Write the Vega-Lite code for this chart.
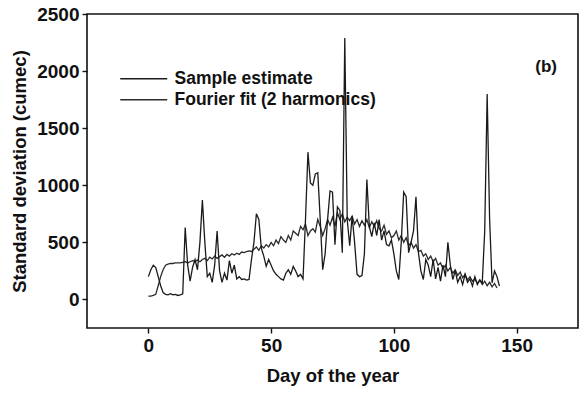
{
  "$schema": "https://vega.github.io/schema/vega-lite/v6.json",
  "width": 491,
  "height": 314,
  "autosize": {"type": "none"},
  "padding": {"left": 87, "top": 14, "right": 8, "bottom": 65},
  "background": "white",
  "config": {
    "view": {"stroke": "#111", "strokeWidth": 1.6},
    "font": "Liberation Sans",
    "axis": {
      "domain": false, "grid": false, "tickColor": "#111", "tickSize": 5, "tickWidth": 1.4,
      "labelFont": "Liberation Sans", "labelFontSize": 19, "labelFontWeight": "bold", "labelColor": "#111",
      "titleFont": "Liberation Sans", "titleFontSize": 18.5, "titleFontWeight": "bold", "titleColor": "#111"
    }
  },
  "datasets": {
    "fourier": [
      [0,30],[1,30],[2,35],[3,45],[4,120],[5,200],[6,260],[7,300],[8,310],[9,315],[10,315],[11,320],[12,320],[13,320],[14,325],[15,330],[16,320],[17,330],[18,340],[19,335],[20,345],[21,330],[22,350],[23,360],[24,340],[25,370],[26,355],[27,380],[28,360],[29,375],[30,390],[31,370],[32,395],[33,380],[34,400],[35,390],[36,405],[37,395],[38,415],[39,410],[40,420],[41,425],[42,420],[43,440],[44,460],[45,430],[46,470],[47,450],[48,480],[49,460],[50,500],[51,470],[52,520],[53,490],[54,550],[55,520],[56,500],[57,560],[58,520],[59,600],[60,580],[61,560],[62,640],[63,610],[64,660],[65,560],[66,600],[67,620],[68,590],[69,700],[70,640],[71,560],[72,620],[73,700],[74,650],[75,720],[76,640],[77,760],[78,700],[79,750],[80,680],[81,720],[82,690],[83,730],[84,660],[85,700],[86,640],[87,690],[88,650],[89,700],[90,630],[91,680],[92,640],[93,690],[94,620],[95,600],[96,650],[97,570],[98,600],[99,540],[100,560],[101,600],[102,520],[103,560],[104,500],[105,540],[106,470],[107,500],[108,450],[109,480],[110,420],[111,430],[112,380],[113,400],[114,350],[115,380],[116,330],[117,360],[118,300],[119,320],[120,270],[121,300],[122,250],[123,280],[124,230],[125,260],[126,210],[127,240],[128,190],[129,220],[130,170],[131,200],[132,160],[133,180],[134,140],[135,170],[136,130],[137,160],[138,120],[139,150],[140,110],[141,140],[142,100]
    ],
    "sample": [
      [0,200],[1,260],[2,300],[3,280],[4,200],[5,120],[6,60],[7,45],[8,40],[9,50],[10,40],[11,45],[12,35],[13,40],[14,50],[15,630],[16,300],[17,160],[18,280],[19,350],[20,260],[21,500],[22,870],[23,500],[24,200],[25,230],[26,150],[27,300],[28,600],[29,250],[30,150],[31,230],[32,170],[33,340],[34,230],[35,300],[36,180],[37,200],[38,175],[39,180],[40,170],[41,175],[42,350],[43,500],[44,750],[45,700],[46,450],[47,380],[48,290],[49,350],[50,300],[51,250],[52,220],[53,200],[54,180],[55,170],[56,230],[57,260],[58,220],[59,290],[60,250],[61,200],[62,220],[63,180],[64,700],[65,1290],[66,1020],[67,1000],[68,1100],[69,1110],[70,700],[71,260],[72,400],[73,700],[74,950],[75,940],[76,480],[77,810],[78,780],[79,410],[80,2290],[81,700],[82,470],[83,730],[84,500],[85,220],[86,200],[87,210],[88,400],[89,1050],[90,640],[91,550],[92,670],[93,560],[94,700],[95,520],[96,600],[97,480],[98,470],[99,520],[100,400],[101,250],[102,175],[103,500],[104,940],[105,900],[106,410],[107,500],[108,600],[109,900],[110,410],[111,250],[112,175],[113,350],[114,300],[115,200],[116,350],[117,180],[118,280],[119,160],[120,300],[121,200],[122,500],[123,300],[124,175],[125,250],[126,150],[127,200],[128,130],[129,220],[130,150],[131,180],[132,117],[133,200],[134,130],[135,170],[136,146],[137,600],[138,1800],[139,700],[140,146],[141,250],[142,200],[143,117]
    ],
    "label": [{"day": 162, "sd": 2040, "text": "(b)"}]
  },
  "layer": [
    {
      "data": {"name": "fourier"},
      "transform": [
        {"calculate": "datum[0]", "as": "day"},
        {"calculate": "datum[1]", "as": "sd"},
        {"calculate": "'Fourier fit (2 harmonics)'", "as": "series"}
      ],
      "mark": {"type": "line", "strokeWidth": 1.3, "clip": true},
      "encoding": {
        "x": {"field": "day", "type": "quantitative", "scale": {"domain": [-25, 175], "nice": false, "zero": false},
              "axis": {"values": [0, 50, 100, 150], "format": "d", "title": "Day of the year", "labelPadding": 3, "titlePadding": 11}},
        "y": {"field": "sd", "type": "quantitative", "scale": {"domain": [-250, 2500], "nice": false},
              "axis": {"values": [0, 500, 1000, 1500, 2000, 2500], "format": "d", "title": "Standard deviation (cumec)", "labelPadding": 3, "titlePadding": 7}},
        "color": {"field": "series", "type": "nominal",
                  "scale": {"domain": ["Sample estimate", "Fourier fit (2 harmonics)"], "range": ["#1a1a1a", "#2a2a2a"]},
                  "legend": {"orient": "none", "legendX": 48, "legendY": 56, "title": null, "symbolType": "M-4,0H4",
                             "symbolSize": 138, "symbolStrokeWidth": 1.5, "labelFontSize": 17.5, "labelFontWeight": "bold",
                             "labelColor": "#111", "labelFont": "Liberation Sans", "labelLimit": 0, "rowPadding": 2, "labelOffset": 22}}
      }
    },
    {
      "data": {"name": "sample"},
      "transform": [
        {"calculate": "datum[0]", "as": "day"},
        {"calculate": "datum[1]", "as": "sd"},
        {"calculate": "'Sample estimate'", "as": "series"}
      ],
      "mark": {"type": "line", "strokeWidth": 1.3, "clip": true},
      "encoding": {
        "x": {"field": "day", "type": "quantitative"},
        "y": {"field": "sd", "type": "quantitative"},
        "color": {"field": "series", "type": "nominal"}
      }
    },
    {
      "data": {"name": "label"},
      "mark": {"type": "text", "fontSize": 17, "fontWeight": "bold", "font": "Liberation Sans", "color": "#111"},
      "encoding": {
        "x": {"field": "day", "type": "quantitative"},
        "y": {"field": "sd", "type": "quantitative"},
        "text": {"field": "text"}
      }
    }
  ]
}
